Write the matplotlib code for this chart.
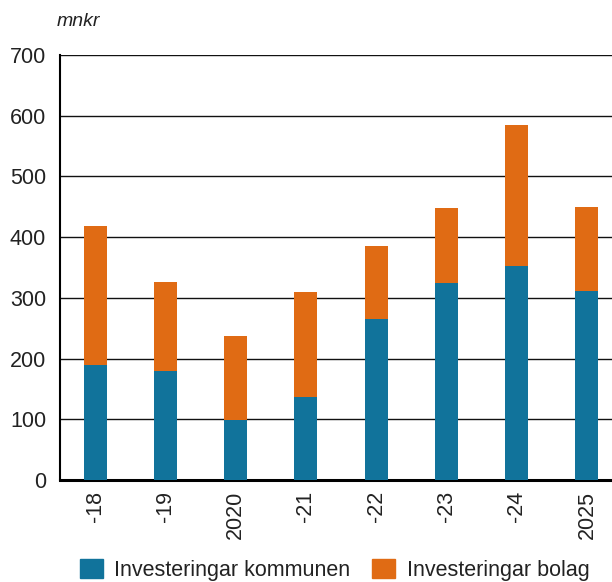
import matplotlib
matplotlib.use("Agg")
import matplotlib.pyplot as plt
from matplotlib.patches import Patch

categories = ["-18", "-19", "2020", "-21", "-22", "-23", "-24", "2025"]
kommunen = [189, 179, 99, 136, 265, 324, 353, 311]
bolag = [229, 147, 138, 174, 121, 124, 232, 139]
yticks = [0, 100, 200, 300, 400, 500, 600, 700]

blue = "#11739b"
orange = "#e06b14"
txt = "#222222"

plt.rcParams['font.family'] = ['Liberation Sans', 'DejaVu Sans']

fig = plt.figure(figsize=(6.12, 5.82), dpi=100)
W, H = 612, 582
left, right = 60, 622
top, bottom = 55, 480
ax = fig.add_axes([left / W, 1 - bottom / H, (right - left) / W, (bottom - top) / H])

x = list(range(len(categories)))
ax.bar(x, kommunen, width=0.33, color=blue, zorder=3)
ax.bar(x, bolag, width=0.33, bottom=kommunen, color=orange, zorder=3)

ax.set_xlim(-0.5, len(categories) - 0.5)
ax.set_ylim(0, 700)
ax.set_yticks(yticks)
ax.set_yticklabels([str(v) for v in yticks], fontsize=15.5, color=txt)
ax.set_xticks(x)
ax.set_xticklabels(categories, rotation=90, fontsize=15.5, color=txt)
ax.tick_params(axis='both', length=0, pad=8)
ax.tick_params(axis='y', pad=10)
ax.yaxis.grid(True, color="#111111", linewidth=1.0, zorder=0)
ax.set_axisbelow(True)
for s in ["top", "right"]:
    ax.spines[s].set_visible(False)
ax.spines["left"].set_linewidth(1.5)
ax.spines["bottom"].set_linewidth(2.2)
ax.spines["left"].set_color("black")
ax.spines["bottom"].set_color("black")

fig.text(57 / W, 1 - 22 / H, "mnkr", fontsize=14, style='italic', color=txt, va='center', ha='left')

handles = [Patch(color=blue, label="Investeringar kommunen"),
           Patch(color=orange, label="Investeringar bolag")]
fig.legend(handles=handles, loc='lower left', bbox_to_anchor=(80 / W, 1 / H),
           ncol=2, frameon=False, fontsize=15.5, handlelength=1.05, handleheight=0.95,
           handletextpad=0.55, columnspacing=1.0, labelcolor=txt,
           borderpad=0.0, borderaxespad=0.0)

fig.savefig("out.png", dpi=100)
